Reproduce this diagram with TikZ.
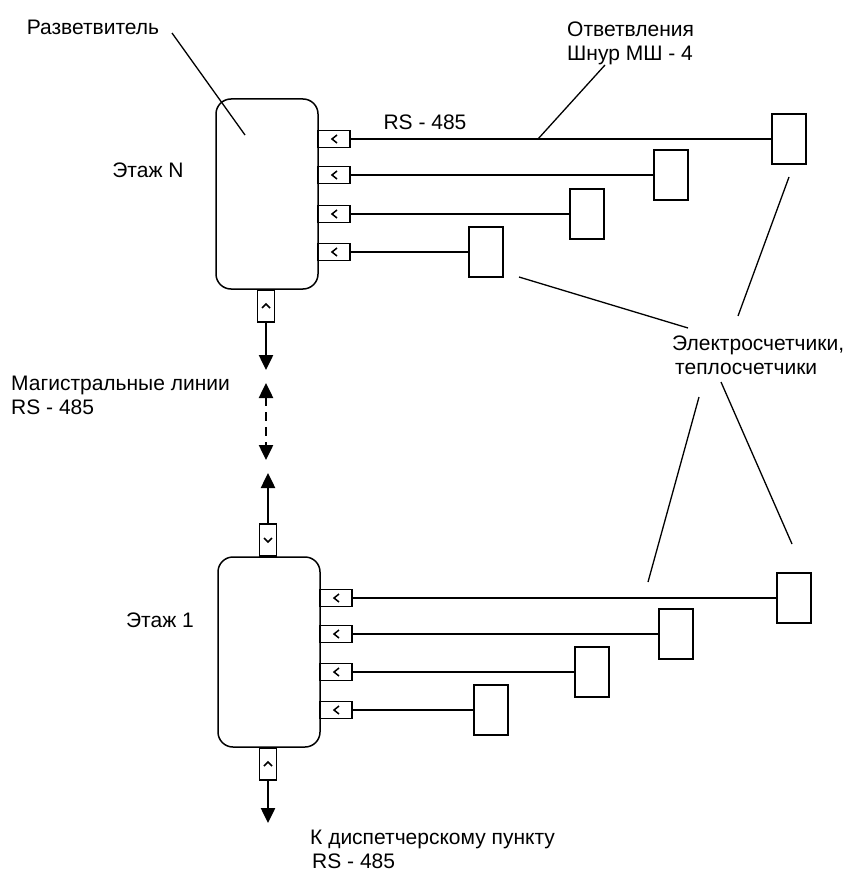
\documentclass[tikz,border=0pt]{standalone}
\usepackage{fontspec}
\setmainfont{Liberation Sans}
\usetikzlibrary{arrows.meta,calc}

\begin{document}
\begin{tikzpicture}[
    x=1pt, y=-1pt,
    font=\fontsize{21}{24}\selectfont,
    splitter/.style={draw, line width=1.5pt, rounded corners=15pt, minimum width=102pt, minimum height=190pt, inner sep=0pt},
    hport/.style={draw, line width=1.5pt, minimum width=32pt, minimum height=17pt, inner sep=0pt},
    vport/.style={draw, line width=1.5pt, minimum width=17pt, minimum height=32pt, inner sep=0pt},
    meter/.style={draw, line width=1.5pt, minimum width=34pt, minimum height=50pt, inner sep=0pt},
    wire/.style={line width=1.5pt},
    lead/.style={line width=1.3pt},
    chev/.style={line width=1.5pt},
    bus/.style={line width=2.5pt, -{Triangle[length=15pt,width=14pt]}},
    lbl/.style={inner sep=0pt, align=left}
  ]
  \useasboundingbox (0,0) rectangle (850,872);

  % floor N
  \node[splitter] (splitN) at (267,194) {};
  \node[vport] (downN) at (266,306) {};
  \draw[chev] ($(downN)+(-4,2)$) -- ++(4,-4) -- ++(4,4);
  \foreach \py/\mx in {139/789, 175/671, 214/587, 252/486} {
    \node[hport] (pN\py) at (334,\py) {};
    \node[meter] (mN\py) at (\mx,\py) {};
    \draw[chev] ($(pN\py)+(3,-4)$) -- ++(-5,4) -- ++(5,4);
    \draw[wire] (pN\py.east) -- (mN\py.west);
  }

  % floor 1
  \node[splitter] (split1) at (269,652) {};
  \node[vport] (up1) at (268,540) {};
  \draw[chev] ($(up1)+(-4,-2)$) -- ++(4,4) -- ++(4,-4);
  \node[vport] (down1) at (268,764) {};
  \draw[chev] ($(down1)+(-4,2)$) -- ++(4,-4) -- ++(4,4);
  \foreach \py/\mx in {598/794, 634/676, 672/592, 710/491} {
    \node[hport] (p1\py) at (336,\py) {};
    \node[meter] (m1\py) at (\mx,\py) {};
    \draw[chev] ($(p1\py)+(3,-4)$) -- ++(-5,4) -- ++(5,4);
    \draw[wire] (p1\py.east) -- (m1\py.west);
  }

  % trunk
  \coordinate (tipN) at (266,370);
  \coordinate (dashA) at (266,383);
  \coordinate (dashB) at (266,460);
  \coordinate (tip1) at (268,473);
  \coordinate (tipOut) at (268,823);
  \draw[bus] (downN.south) -- (tipN);
  \draw[bus, {Triangle[length=15pt,width=14pt]}-{Triangle[length=15pt,width=14pt]}, dash pattern=on 9pt off 6pt] (dashA) -- (dashB);
  \draw[bus] (up1.north) -- (tip1);
  \draw[bus] (down1.south) -- (tipOut);

  % labels
  \node[lbl] (lsplit) at (93,27) {Разветвитель};
  \node[lbl, anchor=west] (lbranch) at (567,43) {Ответвления\\Шнур МШ - 4};
  \node[lbl] (lrs) at (425,122) {RS - 485};
  \node[lbl] (lfloorN) at (148,170) {Этаж N};
  \node[lbl] (lfloor1) at (160,620) {Этаж 1};
  \node[lbl, anchor=west] (ltrunk) at (11,395) {Магистральные линии\\RS - 485};
  \node[lbl, anchor=west] (lmeters) at (672,355) {Электросчетчики,\\\hspace{3pt}теплосчетчики};
  \node[lbl, anchor=west] (lout) at (310,849) {К диспетчерскому пункту\\\hspace{2pt}RS - 485};

  % leaders
  \draw[lead] (172,33) -- (245,135);
  \draw[lead] (605,65) -- (538,139);
  \draw[lead] (519,277) -- (688,328);
  \draw[lead] (789,177) -- (738,316);
  \draw[lead] (699,397) -- (648,582);
  \draw[lead] (721,382) -- (792,544);
\end{tikzpicture}
\end{document}
